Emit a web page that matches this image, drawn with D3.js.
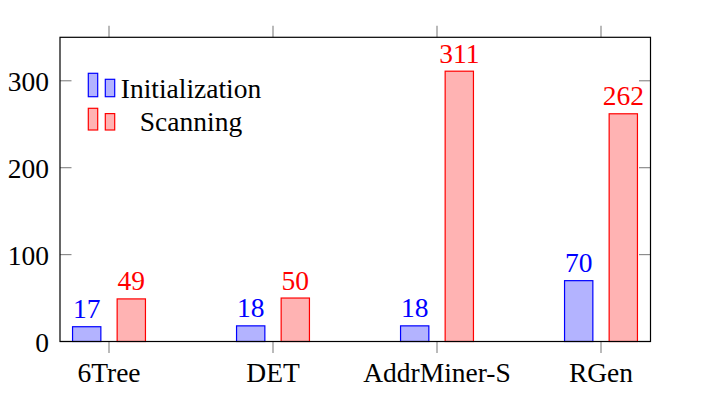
<!DOCTYPE html>
<html><head><meta charset="utf-8">
<script src="https://cdn.jsdelivr.net/npm/d3@7"></script>
<style>body{margin:0;background:#fff}</style>
</head><body><svg id="c" width="712" height="400"></svg>
<script>
const categories = ["6Tree", "DET", "AddrMiner-S", "RGen"];
const seriesNames = ["Initialization", "Scanning"];
const initValues = [17, 18, 18, 70];
const scanValues = [49, 50, 311, 262];
const yTicks = [0, 100, 200, 300];
const colors = [{stroke:"#0000ff", fill:"#b3b3ff"}, {stroke:"#ff0000", fill:"#ffb3b3"}];

const FONT = "Liberation Serif";
const svg = d3.select("#c");
const L=60, R=650.5, T=37.3, B=341.5;
const x = d3.scalePoint().domain(categories).range([109, 601]);
const y = d3.scaleLinear().domain([0, 350]).range([B, T]);
const barW = 28.3, off = 22.3;
const fs = 27.5;

// ticks
const tickG = svg.append("g").attr("stroke", "#8c8c8c").attr("stroke-width", 1.2);
categories.forEach(c => {
  tickG.append("line").attr("x1", x(c)).attr("x2", x(c)).attr("y1", B).attr("y2", B+11.5);
  tickG.append("line").attr("x1", x(c)).attr("x2", x(c)).attr("y1", T).attr("y2", T-11.5);
});
yTicks.forEach(v => {
  tickG.append("line").attr("x1", L).attr("x2", L+11.5).attr("y1", y(v)).attr("y2", y(v));
  tickG.append("line").attr("x1", R).attr("x2", R-11.5).attr("y1", y(v)).attr("y2", y(v));
});

// bars
const series = [initValues, scanValues];
series.forEach((vals, si) => {
  const dx = si === 0 ? -off : off;
  svg.append("g").selectAll("rect").data(vals).join("rect")
    .attr("x", (d,i) => x(categories[i]) + dx - barW/2)
    .attr("y", d => y(d))
    .attr("width", barW)
    .attr("height", d => y(0) - y(d))
    .attr("fill", colors[si].fill)
    .attr("stroke", colors[si].stroke)
    .attr("stroke-width", 1.2);
  svg.append("g").selectAll("text").data(vals).join("text")
    .attr("x", (d,i) => x(categories[i]) + dx)
    .attr("y", d => y(d) - 8.5)
    .attr("text-anchor", "middle")
    .attr("font-family", FONT)
    .attr("font-size", fs)
    .attr("fill", colors[si].stroke)
    .text(d => d);
});

// frame
svg.append("rect").attr("x", L).attr("y", T).attr("width", R-L).attr("height", B-T)
  .attr("fill", "none").attr("stroke", "#000").attr("stroke-width", 1.2);

// tick labels
svg.append("g").selectAll("text").data(yTicks).join("text")
  .attr("x", L - 11).attr("y", d => y(d) + 10)
  .attr("text-anchor", "end").attr("font-family", FONT).attr("font-size", fs).attr("fill", "#000")
  .text(d => d);
svg.append("g").selectAll("text").data(categories).join("text")
  .attr("x", d => x(d)).attr("y", 381.5)
  .attr("text-anchor", "middle").attr("font-family", FONT).attr("font-size", fs).attr("fill", "#000")
  .text(d => d);

// legend
const legY = [96.7, 130];
seriesNames.forEach((n, i) => {
  const g = svg.append("g");
  const base = legY[i];
  g.append("rect").attr("x", 88.3).attr("y", base - 23.4 + (i ? 1.7 : 0)).attr("width", 9.4).attr("height", 23.4 - (i ? 1.7 : 0))
    .attr("fill", colors[i].fill).attr("stroke", colors[i].stroke).attr("stroke-width", 1.2);
  g.append("rect").attr("x", 105.3).attr("y", base - 17.4 + (i ? 1 : 0)).attr("width", 9.4).attr("height", 17.4 - (i ? 1 : 0))
    .attr("fill", colors[i].fill).attr("stroke", colors[i].stroke).attr("stroke-width", 1.2);
  g.append("text").attr("x", 191).attr("y", base + 1).attr("text-anchor", "middle")
    .attr("font-family", FONT).attr("font-size", fs).attr("fill", "#000").text(n);
});
</script></body></html>
